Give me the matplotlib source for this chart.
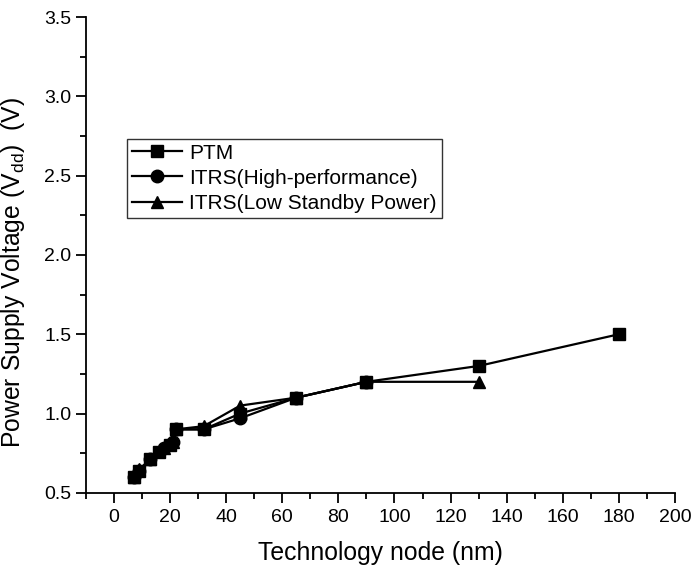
import matplotlib
matplotlib.use("Agg")
import matplotlib.pyplot as plt
from matplotlib.ticker import MultipleLocator, FormatStrFormatter

plt.rcParams['font.family'] = ['Liberation Sans', 'DejaVu Sans']
plt.rcParams['mathtext.fontset'] = 'custom'
plt.rcParams['mathtext.rm'] = 'Liberation Sans'
plt.rcParams['mathtext.it'] = 'Liberation Sans'

ptm_x = [180, 130, 90, 65, 45, 32, 22, 20, 16, 13, 9, 7]
ptm_y = [1.5, 1.3, 1.2, 1.1, 1.0, 0.9, 0.9, 0.8, 0.76, 0.71, 0.64, 0.6]

hp_x = [90, 65, 45, 32, 22, 21, 18, 13, 9, 7]
hp_y = [1.2, 1.1, 0.97, 0.9, 0.9, 0.82, 0.78, 0.71, 0.64, 0.6]

lstp_x = [130, 90, 65, 45, 32, 22, 21, 18, 13, 9, 7]
lstp_y = [1.2, 1.2, 1.1, 1.05, 0.92, 0.9, 0.82, 0.78, 0.71, 0.65, 0.6]

labels = ['PTM', 'ITRS(High-performance)', 'ITRS(Low Standby Power)']

fig = plt.figure(figsize=(6.93, 5.73), dpi=100)
ax = fig.add_axes([0.124, 0.140, 0.850, 0.830])

ax.plot(ptm_x, ptm_y, '-s', color='black', lw=1.6, ms=9, label=labels[0])
ax.plot(hp_x, hp_y, '-o', color='black', lw=1.6, ms=9, label=labels[1])
ax.plot(lstp_x, lstp_y, '-^', color='black', lw=1.6, ms=9, label=labels[2])

ax.set_xlim(-10, 200)
ax.set_ylim(0.5, 3.5)
ax.set_xticks(range(0, 201, 20))
ax.xaxis.set_minor_locator(MultipleLocator(10))
ax.yaxis.set_major_locator(MultipleLocator(0.5))
ax.yaxis.set_minor_locator(MultipleLocator(0.25))
ax.yaxis.set_major_formatter(FormatStrFormatter('%.1f'))

for s in ['top', 'right']:
    ax.spines[s].set_visible(False)
for s in ['left', 'bottom']:
    ax.spines[s].set_linewidth(1.3)

ax.tick_params(which='major', direction='out', length=7.5, width=1.3, labelsize=14)
ax.tick_params(axis='x', which='major', pad=4)
ax.tick_params(axis='y', which='major', pad=3)
ax.tick_params(which='minor', direction='out', length=4.3, width=1.3)

ax.set_xlabel('Technology node (nm)', fontsize=17.8, labelpad=11)
ax.set_ylabel(r'Power Supply Voltage (V$_{\mathrm{dd}}$)  (V)', fontsize=17.8)
ax.yaxis.set_label_coords(-0.1, 0.462)

leg = ax.legend(loc='upper left', bbox_to_anchor=(0.0696, 0.744), borderaxespad=0,
                fontsize=15, frameon=True, fancybox=False, handlelength=2.4,
                handletextpad=0.38, borderpad=0.22, labelspacing=0.3)
leg.get_frame().set_edgecolor('black')
leg.get_frame().set_linewidth(1.0)

fig.savefig('out.png', dpi=100)
